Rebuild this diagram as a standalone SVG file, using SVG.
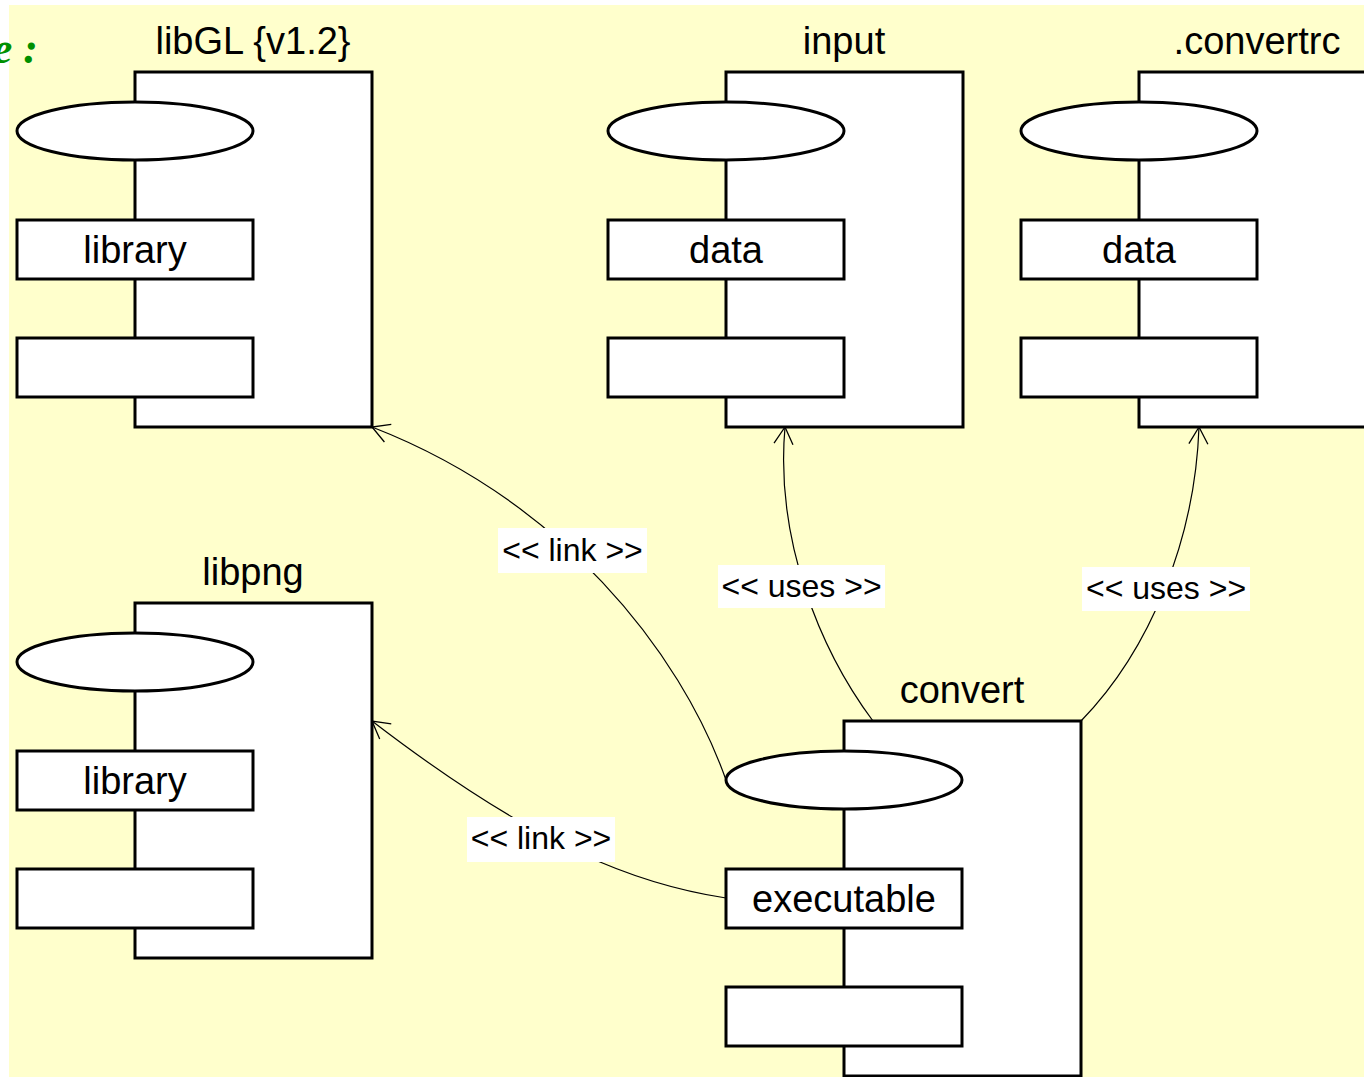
<svg xmlns="http://www.w3.org/2000/svg" width="1364" height="1077" viewBox="0 0 1364 1077">
<style>
.box{fill:#fff;stroke:#000;stroke-width:3}
.nt{font-family:"Liberation Sans",Arial,sans-serif;font-size:38px;fill:#000;text-anchor:middle}
.lt{font-family:"Liberation Sans",Arial,sans-serif;font-size:32px;fill:#000;text-anchor:middle}
.conn{fill:none;stroke:#000;stroke-width:1.2}
.lbg{fill:#fff}
</style>
<defs>
<marker id="arr" markerUnits="userSpaceOnUse" viewBox="-20 -12 22 24" markerWidth="22" markerHeight="24" refX="0" refY="0" orient="auto">
<path d="M-17,-9.5 L0,0 L-17,9.5" fill="none" stroke="#000" stroke-width="1.3"/>
</marker>
<g id="comp">
<rect class="box" x="0" y="0" width="237" height="355"/>
<ellipse class="box" cx="0" cy="59" rx="118" ry="29"/>
<rect class="box" x="-118" y="148" width="236" height="59"/>
<rect class="box" x="-118" y="266" width="236" height="59"/>
</g>
</defs>
<rect x="9" y="5" width="1360" height="1080" fill="#ffffcc"/>
<text x="38" y="63" text-anchor="end" font-family="Liberation Serif,serif" font-style="italic" font-weight="bold" font-size="44" fill="#009000">e :</text>

<g id="connectors">
<path class="conn" d="M726,780 C680,650 560,500 372,427" marker-end="url(#arr)"/>
<path class="conn" d="M873,721 C820,650 775,540 785,427" marker-end="url(#arr)"/>
<path class="conn" d="M1081,721 C1150,650 1195,540 1199,427" marker-end="url(#arr)"/>
<path class="conn" d="M726,898 C640,885 540,850 372,721" marker-end="url(#arr)"/>
<rect class="lbg" x="498" y="528" width="149" height="45"/>
<text class="lt" x="572.5" y="561">&lt;&lt; link &gt;&gt;</text>
<rect class="lbg" x="718" y="565" width="167" height="43"/>
<text class="lt" x="801.5" y="597">&lt;&lt; uses &gt;&gt;</text>
<rect class="lbg" x="1082" y="567" width="168" height="44"/>
<text class="lt" x="1166" y="599">&lt;&lt; uses &gt;&gt;</text>
<rect class="lbg" x="467" y="817" width="148" height="45"/>
<text class="lt" x="541" y="849">&lt;&lt; link &gt;&gt;</text>
</g>

<g id="libGL">
<use href="#comp" x="135" y="72"/>
<text class="nt" x="253" y="54">libGL {v1.2}</text>
<text class="nt" x="135" y="263">library</text>
</g>
<g id="input">
<use href="#comp" x="726" y="72"/>
<text class="nt" x="844" y="54">input</text>
<text class="nt" x="726" y="263">data</text>
</g>
<g id="convertrc">
<use href="#comp" x="1139" y="72"/>
<text class="nt" x="1257" y="54">.convertrc</text>
<text class="nt" x="1139" y="263">data</text>
</g>
<g id="libpng">
<use href="#comp" x="135" y="603"/>
<text class="nt" x="253" y="585">libpng</text>
<text class="nt" x="135" y="794">library</text>
</g>
<g id="convert">
<use href="#comp" x="844" y="721"/>
<text class="nt" x="962" y="703">convert</text>
<text class="nt" x="844" y="912">executable</text>
</g>
</svg>
